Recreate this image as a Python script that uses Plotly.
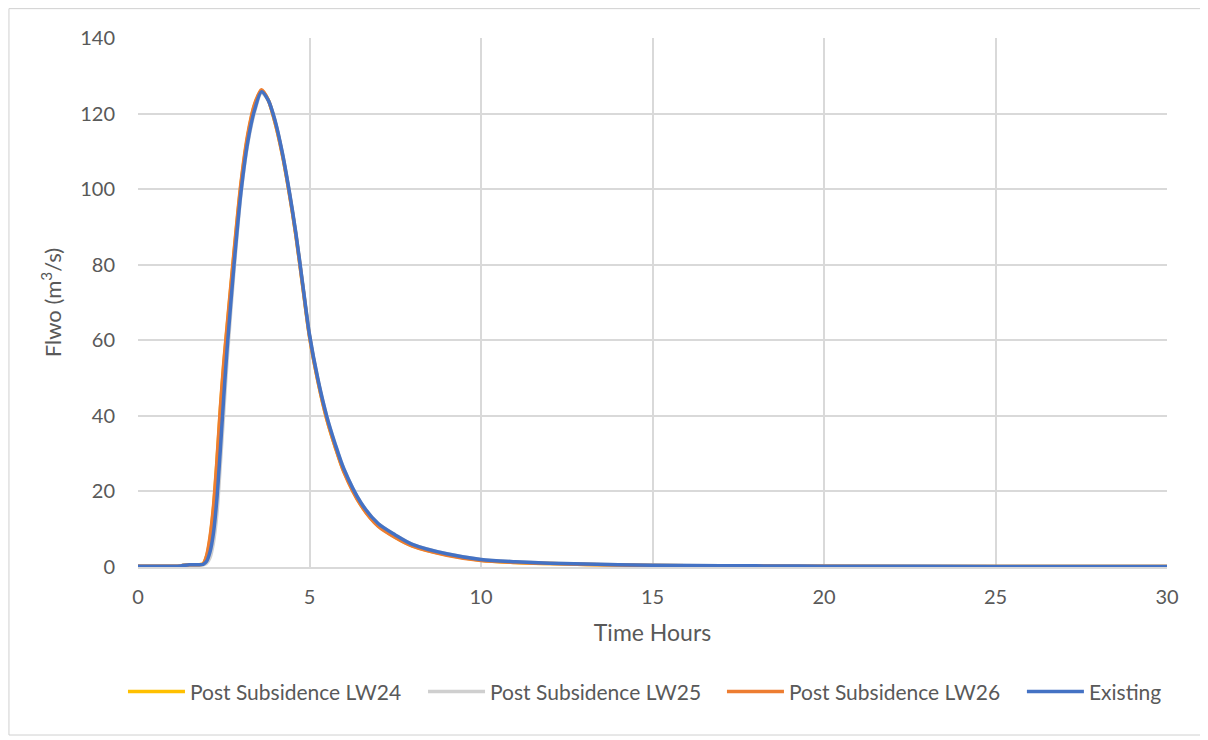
import plotly.graph_objects as go

time_hours = [0, 0.5, 1.0, 1.25, 1.5, 1.75, 1.9, 2.0, 2.1, 2.2, 2.3, 2.4, 2.5, 2.6, 2.8,
              3.0, 3.2, 3.4, 3.6, 3.8, 4.0, 4.2, 4.4, 4.6, 4.8, 5.0, 5.25, 5.5, 5.75,
              6.0, 6.5, 7.0, 7.5, 8, 9, 10, 11, 12, 14, 16, 18, 20, 25, 30]

lw24 = [0.2, 0.2, 0.2, 0.3, 0.6, 0.6, 0.8, 2.8, 7.5, 15.5, 27.5, 41.5, 53.5, 63.5, 83,
        101, 114, 122.3, 126.1, 123.5, 117.5, 109.5, 99.5, 88, 74.5, 61, 49, 39.3, 31.8,
        25.3, 16.4, 10.9, 7.9, 5.6, 3.2, 1.8, 1.2, 0.9, 0.5, 0.35, 0.25, 0.18, 0.12, 0.1]

lw25 = [0.2, 0.2, 0.2, 0.3, 0.6, 0.6, 0.6, 1.0, 2.5, 6.5, 14, 27, 41, 55, 78.5,
        98.5, 112, 120.5, 125.5, 123.5, 118, 110, 100, 88.5, 75, 61.5, 49.5, 40, 32.5,
        26, 17, 11.5, 8.5, 6, 3.5, 2, 1.4, 1.0, 0.6, 0.4, 0.3, 0.2, 0.15, 0.1]

lw26 = [0.2, 0.2, 0.2, 0.3, 0.6, 0.6, 0.8, 3, 8, 16, 28, 42, 54, 64, 83.5,
        101.5, 114.5, 122.5, 126.3, 123.5, 117.5, 109.5, 99.5, 88, 74.5, 61, 49, 39.3, 31.8,
        25.2, 16.3, 10.8, 7.8, 5.5, 3.1, 1.7, 1.2, 0.9, 0.5, 0.35, 0.25, 0.18, 0.12, 0.1]

existing = [0.2, 0.2, 0.2, 0.3, 0.6, 0.6, 0.7, 1.5, 4, 9, 18, 31, 45, 58, 80,
            99, 112.5, 121, 125.8, 123.5, 118, 110, 100, 88.5, 75, 61.5, 49.5, 40, 32.5,
            26, 17, 11.5, 8.5, 6, 3.5, 2, 1.4, 1.0, 0.6, 0.4, 0.3, 0.2, 0.15, 0.1]

series = [
    ("Post Subsidence LW24", lw24, "#FFC000"),
    ("Post Subsidence LW25", lw25, "#CFCFCF"),
    ("Post Subsidence LW26", lw26, "#ED7D31"),
    ("Existing", existing, "#4472C4"),
]

FONT = "Lato, 'Open Sans', sans-serif"
TXT = "#595959"

legend_ids = ["legend", "legend2", "legend3", "legend4"]
legend_x = [-0.0146, 0.277, 0.5675, 0.859]

fig = go.Figure()
for (name, vals, col), lid in zip(series, legend_ids):
    fig.add_trace(go.Scatter(x=time_hours, y=vals, name=name, mode="lines", legend=lid,
                             line=dict(color=col, width=3.5, shape="spline", smoothing=0.8)))

# page body has an 8px margin, so the plot margins are offset by 8px
fig.update_layout(
    width=1208, height=740,
    margin=dict(l=130, r=49, t=30, b=181),
    paper_bgcolor="white", plot_bgcolor="white",
    font=dict(family=FONT, size=20, color=TXT),
    showlegend=True,
    xaxis=dict(range=[0, 30], tickvals=[0, 5, 10, 15, 20, 25, 30],
               showgrid=True, gridcolor="#D9D9D9", gridwidth=1.5,
               zeroline=False, showline=True, linecolor="#D9D9D9", linewidth=1.5,
               ticks="", ticklabelstandoff=11, tickfont=dict(size=20),
               title=dict(text="Time Hours", font=dict(size=23, color=TXT), standoff=18)),
    yaxis=dict(range=[0, 140], tickvals=list(range(0, 141, 20)),
               showgrid=True, gridcolor="#D9D9D9", gridwidth=1.5,
               zeroline=False, showline=False,
               ticks="", ticklabelstandoff=22, tickfont=dict(size=20),
               title=dict(text="Flwo (m<sup>3</sup>/s)", font=dict(size=22, color=TXT), standoff=12)),
)

for lid, lx in zip(legend_ids, legend_x):
    fig.update_layout({lid: dict(orientation="h", x=lx, xanchor="left", y=-0.236, yanchor="middle",
                                 font=dict(size=21, color=TXT), itemwidth=57,
                                 bgcolor="rgba(0,0,0,0)")})

fig.add_shape(type="rect", xref="paper", yref="paper",
              x0=-0.1254, x1=1.0335, y0=-0.3176, y1=1.0555,
              line=dict(color="#D0D0D0", width=1), fillcolor="rgba(0,0,0,0)", layer="below")

fig.write_html("out.html")
